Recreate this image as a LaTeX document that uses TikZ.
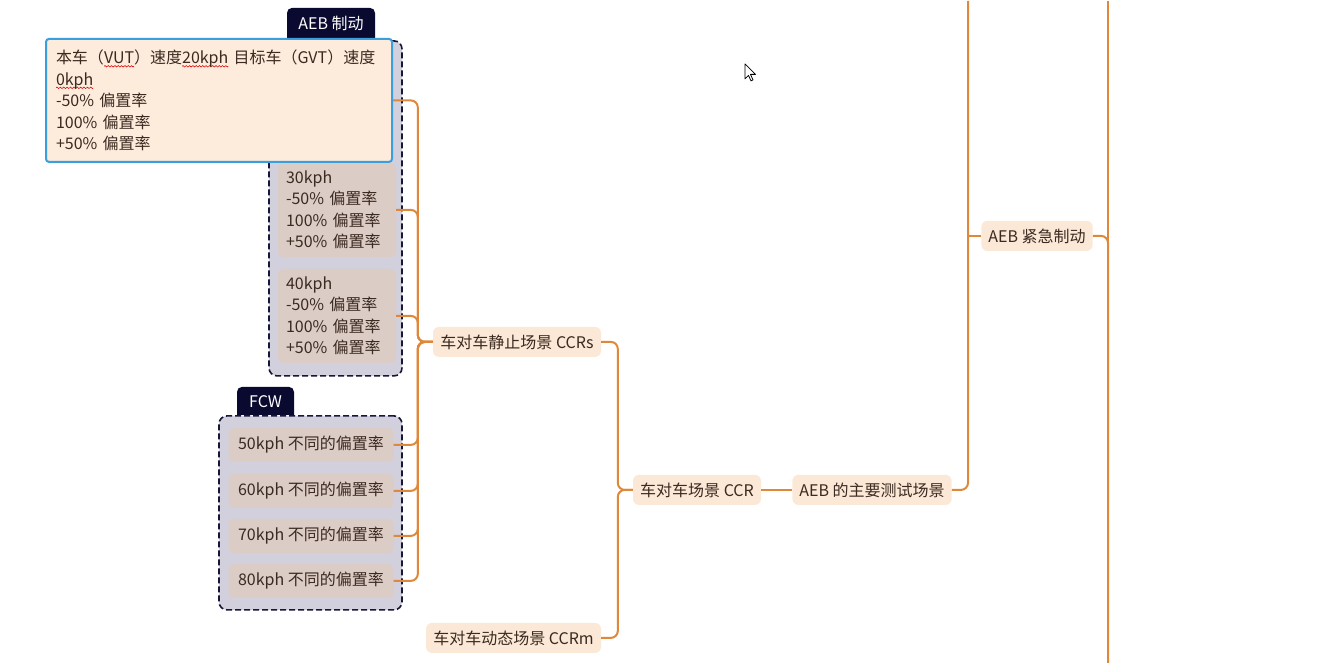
\documentclass[tikz,border=0pt]{standalone}
\usepackage{fontspec}
\setmainfont{Noto Sans CJK SC}
\usetikzlibrary{calc}
\definecolor{connc}{HTML}{E0883A}
\definecolor{peach}{HTML}{FCE8D7}
\definecolor{itemfill}{HTML}{DCCCC6}
\definecolor{grpfill}{HTML}{D2D0DC}
\definecolor{grpline}{HTML}{16163A}
\definecolor{tabc}{HTML}{0A0A30}
\definecolor{txt}{HTML}{3A2A20}
\definecolor{popfill}{HTML}{FDEBDC}
\definecolor{popline}{HTML}{3A9FDF}
\newsavebox\wavebox
\newsavebox\wavetmp
\newcommand\redwave[1]{\leavevmode\sbox\wavetmp{#1}\rlap{\lower3.6pt\hbox to\wd\wavetmp{\xleaders\copy\wavebox\hfill}}\usebox\wavetmp}
\begin{document}
\begin{tikzpicture}[x=1pt,y=-1pt,
  every node/.style={font=\fontsize{16}{21.5}\selectfont, text=txt},
  topic/.style={fill=peach, rounded corners=6pt, inner xsep=7pt, inner ysep=0pt, minimum height=30pt},
  item/.style={fill=itemfill, rounded corners=6pt, inner xsep=8pt, inner ysep=0pt},
  conn/.style={draw=connc, line width=2pt, rounded corners=7pt},
  grp/.style={draw=grpline, fill=grpfill, dash pattern=on 6pt off 3pt, line width=1.6pt, rounded corners=8pt, inner sep=0pt},
  tabtext/.style={text=white, inner sep=0pt}]
\global\sbox\wavebox{\tikz{\useasboundingbox (0pt,-0.9pt) rectangle (3.2pt,0.9pt);
  \draw[red!85!black, line width=0.55pt] (0pt,0pt) sin (0.8pt,0.75pt) cos (1.6pt,0pt) sin (2.4pt,-0.75pt) cos (3.2pt,0pt);}}
\useasboundingbox[fill=white] (0,0) rectangle (1326,662);

% groups
\node[grp, minimum width=133pt, minimum height=335pt] (g1) at (335.5,207.5) {};
\node[grp, minimum width=183pt, minimum height=194pt] (g2) at (310.5,512) {};
% tabs
\fill[tabc] (287,38) {[rounded corners=5pt] -- (287,7) -- (375,7)} -- (375,38) -- cycle;
\node[tabtext] (tab1) at (331,22.5) {AEB 制动};
\fill[tabc] (237,414) {[rounded corners=5pt] -- (237,386) -- (294,386)} -- (294,414) -- cycle;
\node[tabtext] (tab2) at (265.5,400.5) {FCW};

% items in AEB group
\node[item, text width=102pt, align=left, minimum height=94pt] (i30) at (337,209) {30kph\\-50\% 偏置率\\100\% 偏置率\\+50\% 偏置率};
\node[item, text width=102pt, align=left, minimum height=94pt] (i40) at (337,315) {40kph\\-50\% 偏置率\\100\% 偏置率\\+50\% 偏置率};
% edit popup of the 20kph item
\node[fill=popfill, draw=popline, line width=2pt, rounded corners=3pt, text width=326pt, inner xsep=10pt, inner ysep=0pt, align=left, minimum height=123pt] (i20) at (219,99.5)
  {本车（\redwave{VUT}）速度\redwave{20kph} 目标车（GVT）速度\\\redwave{0kph}\\-50\% 偏置率\\100\% 偏置率\\+50\% 偏置率};

% FCW items
\node[item, minimum width=165pt, minimum height=34pt] (i50) at (311,444) {50kph 不同的偏置率};
\node[item, minimum width=165pt, minimum height=34pt] (i60) at (311,490) {60kph 不同的偏置率};
\node[item, minimum width=165pt, minimum height=34pt] (i70) at (311,535) {70kph 不同的偏置率};
\node[item, minimum width=165pt, minimum height=34pt] (i80) at (311,580) {80kph 不同的偏置率};

% topics
\node[topic, minimum width=168pt] (ccrs) at (517,341) {车对车静止场景 CCRs};
\node[topic, minimum width=175pt] (ccrm) at (513.5,637) {车对车动态场景 CCRm};
\node[topic, minimum width=128pt] (ccr) at (697,489) {车对车场景 CCR};
\node[topic, minimum width=158pt] (main) at (872,489) {AEB 的主要测试场景};
\node[topic, minimum width=110pt] (aebjj) at (1037,235) {AEB 紧急制动};

% connectors
\coordinate (s1) at ([xshift=-15pt]ccrs.west);
\foreach \n in {i20,i30,i40,i50,i60,i70,i80}
  \draw[conn] (ccrs.west) -- (s1) |- (\n.east);
\coordinate (s2) at ([xshift=-15pt]ccr.west);
\draw[conn] (ccr.west) -- (s2) |- (ccrs.east);
\draw[conn] (ccr.west) -- (s2) |- (ccrm.east);
\draw[conn] (ccr.east) -- (main.west);
\coordinate (t1) at (968,0);
\draw[conn] (t1) |- (main.east);
\draw[conn] (aebjj.west) -- (aebjj.west -| t1);
\coordinate (t2) at (1108,0);
\coordinate (b2) at (1108,662);
\draw[conn, rounded corners=0pt] (t2) -- (b2);
\draw[conn] (aebjj.east) -| (b2);

% mouse cursor
\filldraw[fill=white, draw=black, line width=0.8pt, line join=round]
  (745,63) -- (745,78) -- (748.5,74.5) -- (751,80) -- (753,79) -- (750.5,73.5) -- (755.5,73.5) -- cycle;
\end{tikzpicture}
\end{document}
